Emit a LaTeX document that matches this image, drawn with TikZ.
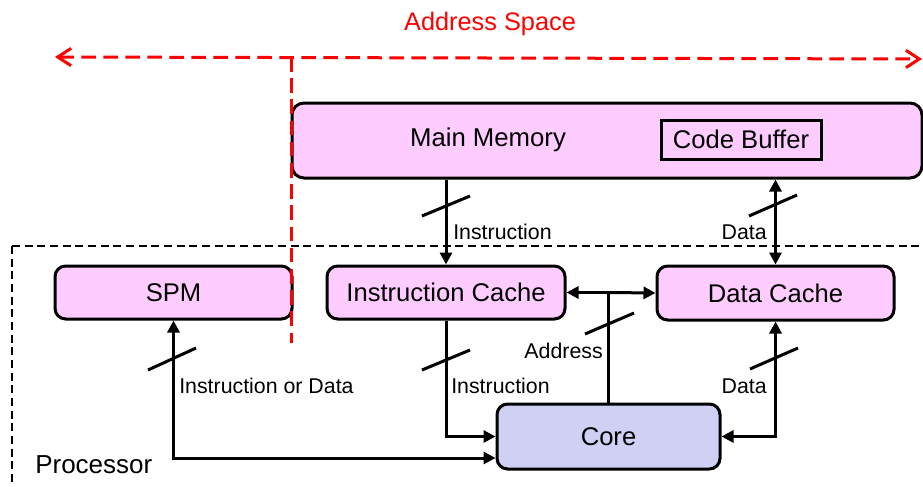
\documentclass[tikz,border=0pt]{standalone}
\usepackage{fontspec}
\setmainfont{Liberation Sans}
\usetikzlibrary{arrows.meta,calc}
\definecolor{memfill}{RGB}{255,204,255}
\definecolor{corefill}{RGB}{208,208,244}
\tikzset{
  unit/.style={draw, line width=2.25pt, rounded corners=8pt, fill=memfill,
    inner sep=0pt, font=\fontsize{19.2}{21}\selectfont},
  coreunit/.style={unit, fill=corefill},
  wire/.style={line width=2.25pt},
  tipA/.style={-{Triangle[length=9pt,width=9pt]}},
  tipAB/.style={{Triangle[length=9pt,width=9pt]}-{Triangle[length=9pt,width=9pt]}},
  busmark/.style={line width=2.25pt},
  wirelabel/.style={inner sep=0pt, font=\fontsize{16}{18}\selectfont},
  spacemark/.style={red, line width=2.25pt, dash pattern=on 11pt off 5.5pt},
  bigtext/.style={inner sep=0pt, font=\fontsize{19.3}{21}\selectfont}
}
\begin{document}
\begin{tikzpicture}[x=0.75pt,y=-0.75pt]
\useasboundingbox (0,0) rectangle (923,486);
\begin{scope}
\clip (0,0) rectangle (923,486);

% processor boundary
\draw[line width=1.5pt, dash pattern=on 6pt off 3.5pt] (12,246) rectangle (940,500);
\node[bigtext, anchor=west, font=\fontsize{19.5}{21}\selectfont] (proc) at (35,465) {Processor};

% main memory with code buffer
\node[unit, minimum width=630pt*0.75, minimum height=75pt*0.75, rounded corners=9pt]
  (mm) at (607,140.5) {};
\node[bigtext] (mmlabel) at (488,140) {Main Memory};
\node[draw, line width=2.25pt, fill=memfill, inner sep=0pt,
  minimum width=160pt*0.75, minimum height=39pt*0.75, font=\fontsize{19.2}{21}\selectfont]
  (cb) at (741,139.5) {Code Buffer};

% on-chip units
\node[unit, minimum width=237pt*0.75, minimum height=53pt*0.75] (spm) at (173.5,292.5) {SPM};
\node[unit, minimum width=238pt*0.75, minimum height=53pt*0.75] (ic) at (446,292.5) {Instruction Cache};
\node[unit, minimum width=237pt*0.75, minimum height=54pt*0.75] (dc) at (775.5,293) {Data Cache};
\node[coreunit, minimum width=223pt*0.75, minimum height=65pt*0.75] (core) at (608.5,436.5) {Core};

% address space span
\coordinate (asl) at (55,57);
\coordinate (asr) at (922,59);
\coordinate (asd) at (291,343);
\draw[spacemark, {Straight Barb[length=10pt,width=13pt]}-{Straight Barb[length=10pt,width=13pt]}] (asl) -- (asr);
\draw[spacemark, dash pattern=on 11pt off 4.9pt] (asd |- asl) -- (asd);
\node[wirelabel, red, font=\fontsize{19}{21}\selectfont] (aslabel) at (490,24) {Address Space};

% memory to caches
\draw[wire, tipA] (ic.north |- mm.south) -- (ic.north);
\draw[wire, tipAB] (dc.north |- mm.south) -- (dc.north);

% caches and SPM to core
\draw[wire, tipA] (ic.south) |- (core.west);
\draw[wire, tipAB] (dc.south) |- (core.east);
\draw[wire, tipAB] (spm.south) |- ($(core.west)+(0,21.5)$);

% address bus
\coordinate (aj) at (core.north |- ic.east);
\draw[wire] (core.north) -- (aj);
\draw[wire, tipA] (aj) -- (ic.east);
\draw[wire, tipA] (aj) -- (dc.west);

% bus width marks
\draw[busmark] (422,216) -- (470,196);
\draw[busmark] (749,216) -- (797,195);
\draw[busmark] (422,370) -- (470,350);
\draw[busmark] (585,334) -- (634,313);
\draw[busmark] (750,369) -- (798,348);
\draw[busmark] (148,370) -- (196,348);

% wire labels
\node[wirelabel, anchor=west] (l1) at (453,232) {Instruction};
\node[wirelabel, anchor=east] (l2) at (767,232) {Data};
\node[wirelabel, anchor=west] (l3) at (451,386) {Instruction};
\node[wirelabel, anchor=east] (l4) at (603,351) {Address};
\node[wirelabel, anchor=east] (l5) at (767,386) {Data};
\node[wirelabel, anchor=west] (l6) at (179,386) {Instruction or Data};
\end{scope}
\end{tikzpicture}
\end{document}
